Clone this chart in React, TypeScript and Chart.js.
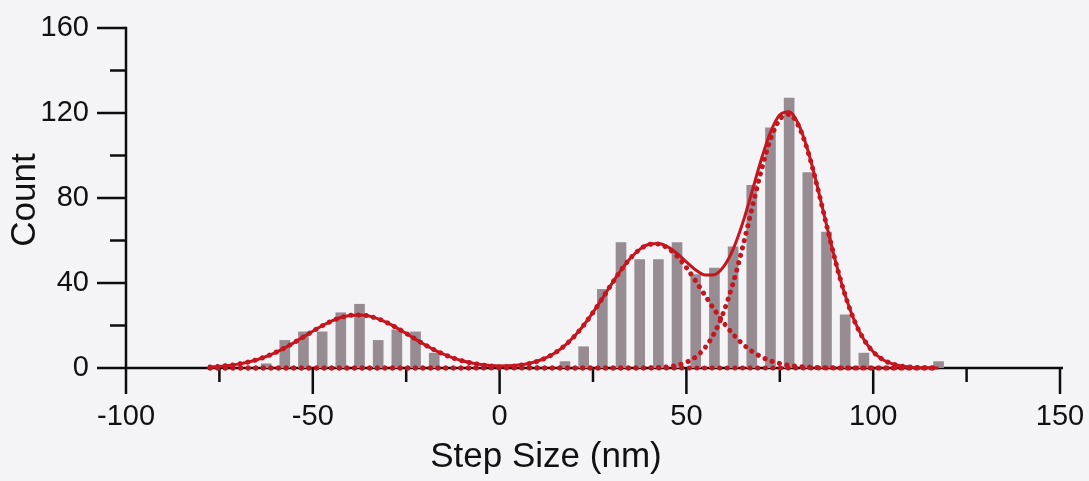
import React, { useEffect, useRef } from 'react';
import { Chart, registerables } from 'chart.js';

Chart.register(...registerables);

// Histogram bins (centre of 5 nm bins) and counts
const binCenters = [-62.5, -57.5, -52.5, -47.5, -42.5, -37.5, -32.5, -27.5, -22.5, -17.5, 17.5, 22.5, 27.5, 32.5, 37.5, 42.5, 47.5, 52.5, 57.5, 62.5, 67.5, 72.5, 77.5, 82.5, 87.5, 92.5, 97.5, 117.5];
const binCounts = [2, 13, 17, 17, 26, 30, 13, 18, 17, 7, 3, 10, 37, 59, 51, 51, 59, 44, 47, 57, 86, 113, 127, 92, 64, 25, 7, 3];

const curveX = [-77.5, -75, -72.5, -70, -67.5, -65, -62.5, -60, -57.5, -55, -52.5, -50, -47.5, -45, -42.5, -40, -37.5, -35, -32.5, -30, -27.5, -25, -22.5, -20, -17.5, -15, -12.5, -10, -7.5, -5, -2.5, 0, 2.5, 5, 7.5, 10, 12.5, 15, 17.5, 20, 22.5, 25, 27.5, 30, 32.5, 35, 37.5, 40, 42.5, 45, 47.5, 50, 52.5, 55, 57.5, 60, 62.5, 65, 67.5, 70, 72.5, 75, 77.5, 80, 82.5, 85, 87.5, 90, 92.5, 95, 97.5, 100, 102.5, 105, 107.5, 110, 112.5, 115, 117.5];

const fitTotal = [0.47, 0.76, 1.2, 1.83, 2.72, 3.89, 5.41, 7.27, 9.48, 11.96, 14.63, 17.32, 19.86, 22.06, 23.74, 24.75, 25.0, 24.43, 23.14, 21.24, 18.87, 16.25, 13.55, 10.94, 8.56, 6.49, 4.76, 3.4, 2.38, 1.65, 1.19, 0.99, 1.03, 1.36, 2.04, 3.18, 4.9, 7.35, 10.65, 14.9, 20.11, 26.14, 32.75, 39.56, 46.03, 51.64, 55.84, 58.21, 58.57, 57.0, 53.88, 49.93, 46.15, 43.74, 43.93, 47.79, 55.87, 67.89, 82.62, 97.88, 110.96, 119.15, 120.61, 114.76, 102.49, 85.86, 67.43, 49.64, 34.24, 22.13, 13.4, 7.61, 4.05, 2.02, 0.94, 0.41, 0.17, 0.07, 0.02];

const fitPeak1 = [0.47, 0.76, 1.2, 1.83, 2.72, 3.89, 5.41, 7.27, 9.48, 11.96, 14.63, 17.32, 19.86, 22.06, 23.74, 24.75, 25.0, 24.43, 23.14, 21.24, 18.87, 16.25, 13.55, 10.94, 8.56, 6.49, 4.76, 3.38, 2.33, 1.55, 1.0, 0.63, 0.38, 0.22, 0.13, 0.07, 0.04, 0.02, 0.01, 0, 0, 0, 0, 0, 0, 0, 0, 0, 0, 0, 0, 0, 0, 0, 0, 0, 0, 0, 0, 0, 0, 0, 0, 0, 0, 0, 0, 0, 0, 0, 0, 0, 0, 0, 0, 0, 0, 0, 0];

const fitPeak2 = [0, 0, 0, 0, 0, 0, 0, 0, 0, 0, 0, 0, 0, 0, 0, 0, 0, 0, 0, 0, 0, 0, 0, 0, 0, 0, 0, 0.02, 0.05, 0.1, 0.19, 0.36, 0.65, 1.14, 1.91, 3.11, 4.86, 7.33, 10.64, 14.9, 20.11, 26.14, 32.75, 39.56, 46.03, 51.63, 55.8, 58.11, 58.33, 56.42, 52.59, 47.24, 40.9, 34.12, 27.43, 21.25, 15.87, 11.42, 7.92, 5.29, 3.41, 2.11, 1.27, 0.73, 0.4, 0.22, 0.11, 0.06, 0.03, 0.01, 0, 0, 0, 0, 0, 0, 0, 0, 0];

const fitPeak3 = [0, 0, 0, 0, 0, 0, 0, 0, 0, 0, 0, 0, 0, 0, 0, 0, 0, 0, 0, 0, 0, 0, 0, 0, 0, 0, 0, 0, 0, 0, 0, 0, 0, 0, 0, 0, 0, 0, 0, 0, 0, 0, 0, 0, 0, 0, 0.04, 0.1, 0.24, 0.58, 1.29, 2.69, 5.25, 9.62, 16.5, 26.54, 40.0, 56.47, 74.7, 92.59, 107.55, 117.04, 119.34, 114.03, 102.09, 85.64, 67.32, 49.58, 34.21, 22.12, 13.4, 7.61, 4.05, 2.02, 0.94, 0.41, 0.17, 0.07, 0.02];

// Axis ticks
const xMajorTicks = [-100, -50, 0, 50, 100, 150];
const yMajorTicks = [0, 40, 80, 120, 160];
const xTitle = 'Step Size (nm)';
const yTitle = 'Count';

const FONT = '"Liberation Sans", Arial, Helvetica, sans-serif';
const TEXT = '#111111';
const AXIS = '#0d0d0d';
const RED = '#c4161f';
const BAR = '#978c92';
const BG = '#f4f4f7';

const axesPlugin = {
  id: 'axesPlugin',
  beforeDatasetsDraw(chart: any) {
    const { ctx } = chart;
    const x = chart.scales.x;
    const y = chart.scales.y;
    const y0 = y.getPixelForValue(0);
    const yTop = y.getPixelForValue(160);
    const xl = x.getPixelForValue(-100);
    const xr = x.getPixelForValue(150);
    ctx.save();
    ctx.strokeStyle = AXIS;
    ctx.lineWidth = 2.5;
    ctx.lineCap = 'butt';
    const line = (a: number, b: number, c: number, d: number) => {
      ctx.beginPath();
      ctx.moveTo(a, b);
      ctx.lineTo(c, d);
      ctx.stroke();
    };
    line(xl, y0, xr + 3, y0);
    line(xl, yTop - 1.25, xl, y0);
    x.ticks.forEach((t: any) => {
      const px = x.getPixelForValue(t.value);
      const len = xMajorTicks.includes(t.value) ? 26 : 14;
      line(px, y0, px, y0 + len);
    });
    y.ticks.forEach((t: any) => {
      const py = y.getPixelForValue(t.value);
      const len = yMajorTicks.includes(t.value) ? 29 : 16;
      line(xl, py, xl - len, py);
    });
    ctx.restore();
  },
  afterDraw(chart: any) {
    const { ctx, chartArea } = chart;
    ctx.save();
    ctx.fillStyle = TEXT;
    ctx.font = `35px ${FONT}`;
    ctx.textAlign = 'center';
    ctx.textBaseline = 'middle';
    ctx.fillText(xTitle, 546, 457);
    ctx.translate(25, (chartArea.top + chartArea.bottom) / 2 + 2);
    ctx.rotate(-Math.PI / 2);
    ctx.fillText(yTitle, 0, 0);
    ctx.restore();
  },
};

const bgPlugin = {
  id: 'bgPlugin',
  beforeDraw(chart: any) {
    const { ctx, width, height } = chart;
    ctx.save();
    ctx.fillStyle = BG;
    ctx.fillRect(0, 0, width, height);
    ctx.restore();
  },
};

const zeroPad = (s: any) => {
  s.paddingTop = 0;
  s.paddingBottom = 0;
  s.paddingLeft = 0;
  s.paddingRight = 0;
};

export default function App() {
  const canvasRef = useRef<HTMLCanvasElement | null>(null);

  useEffect(() => {
    document.body.style.margin = '0';
    document.body.style.background = BG;
    const canvas = canvasRef.current;
    if (!canvas) return;
    const dotted = {
      type: 'line' as const,
      borderColor: RED,
      borderWidth: 5,
      borderDash: [0.1, 7.5],
      borderCapStyle: 'round' as const,
      pointRadius: 0,
      cubicInterpolationMode: 'monotone' as const,
      fill: false,
      clip: false as any,
      order: 2,
    };
    const chart = new Chart(canvas, {
      type: 'bar',
      data: {
        datasets: [
          {
            type: 'line',
            label: 'Total fit',
            data: curveX.map((x, i) => ({ x, y: fitTotal[i] })),
            borderColor: RED,
            borderWidth: 3,
            pointRadius: 0,
            cubicInterpolationMode: 'monotone',
            fill: false,
            clip: false as any,
            order: 1,
          } as any,
          { ...dotted, label: 'Peak 1', data: curveX.map((x, i) => ({ x, y: fitPeak1[i] })) } as any,
          { ...dotted, label: 'Peak 2', data: curveX.map((x, i) => ({ x, y: fitPeak2[i] })) } as any,
          { ...dotted, label: 'Peak 3', data: curveX.map((x, i) => ({ x, y: fitPeak3[i] })) } as any,
          {
            type: 'bar',
            label: 'Count',
            data: binCenters.map((x, i) => ({ x, y: binCounts[i] })),
            backgroundColor: BAR,
            barThickness: 10,
            order: 5,
          } as any,
        ],
      },
      options: {
        animation: false,
        responsive: false,
        devicePixelRatio: 1,
        layout: { padding: { top: 28, right: 29, left: 0, bottom: 0 } },
        plugins: { legend: { display: false }, tooltip: { enabled: false } },
        scales: {
          x: {
            type: 'linear',
            min: -100,
            max: 150,
            offset: false,
            grid: { display: false, drawTicks: false },
            border: { display: false },
            ticks: {
              stepSize: 25,
              autoSkip: false,
              maxRotation: 0,
              padding: 32,
              color: TEXT,
              font: { family: FONT, size: 29 },
              callback: (v: any) => (xMajorTicks.includes(Number(v)) ? String(v) : ''),
            },
            afterFit: (s: any) => {
              s.height = 113;
              zeroPad(s);
            },
          },
          y: {
            type: 'linear',
            min: 0,
            max: 160,
            grid: { display: false, drawTicks: false },
            border: { display: false },
            ticks: {
              stepSize: 20,
              autoSkip: false,
              padding: 37,
              color: TEXT,
              font: { family: FONT, size: 29 },
              callback: (v: any) => (yMajorTicks.includes(Number(v)) ? String(v) : ''),
            },
            afterFit: (s: any) => {
              s.width = 126;
              zeroPad(s);
            },
          },
        },
      } as any,
      plugins: [bgPlugin, axesPlugin],
    });
    return () => chart.destroy();
  }, []);

  return (
    <div style={{ width: 1089, height: 481, background: BG }}>
      <canvas ref={canvasRef} width={1089} height={481} style={{ display: 'block' }} />
    </div>
  );
}
